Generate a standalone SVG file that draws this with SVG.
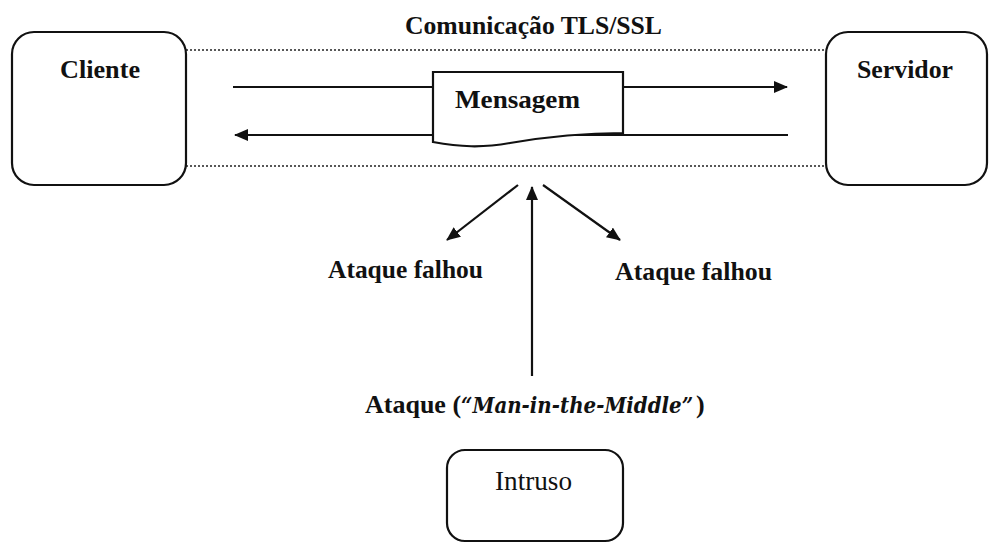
<svg xmlns="http://www.w3.org/2000/svg" width="990" height="543" viewBox="0 0 990 543">
  <defs>
    <marker id="arrow" viewBox="0 0 14 12" refX="13" refY="6" markerWidth="14" markerHeight="12" markerUnits="userSpaceOnUse" orient="auto">
      <path d="M0,0 L14,6 L0,12 Z" fill="#111"/>
    </marker>
    <style>
      .box { fill: #fff; stroke: #111; stroke-width: 2.2; }
      .lbl { font-family: "Liberation Serif", "Times New Roman", serif; font-weight: bold; font-size: 26px; fill: #111; }
      .reg { font-family: "Liberation Serif", "Times New Roman", serif; font-size: 27px; fill: #111; }
      .ital { font-family: "DejaVu Serif", "Liberation Serif", serif; font-style: italic; font-weight: bold; font-size: 23px; }
      .dot { stroke: #222; stroke-width: 1.6; stroke-dasharray: 2 2; fill: none; }
      .link { stroke: #111; stroke-width: 2.2; fill: none; marker-end: url(#arrow); }
    </style>
  </defs>

  <rect width="990" height="543" fill="#fff"/>

  <!-- TLS/SSL channel boundaries -->
  <g id="channel">
    <line class="dot" x1="186" y1="50" x2="827" y2="50"/>
    <line class="dot" x1="186" y1="166" x2="827" y2="166"/>
    <text class="lbl" x="405" y="34" textLength="257" lengthAdjust="spacingAndGlyphs">Comunicação TLS/SSL</text>
  </g>

  <!-- connectors -->
  <g id="connectors">
    <line class="link" x1="233" y1="87" x2="787" y2="87"/>
    <line class="link" x1="788" y1="135" x2="235" y2="135"/>
    <line class="link" x1="518" y1="185" x2="447" y2="240"/>
    <line class="link" x1="543" y1="185" x2="620" y2="240"/>
    <line class="link" x1="532" y1="376" x2="532" y2="187"/>
  </g>

  <g id="cliente">
    <rect class="box" x="12" y="32" width="174" height="153" rx="22"/>
    <text class="lbl" x="60" y="78" textLength="80" lengthAdjust="spacingAndGlyphs">Cliente</text>
  </g>

  <g id="servidor">
    <rect class="box" x="826" y="32" width="161" height="153" rx="22"/>
    <text class="lbl" x="857" y="78" textLength="96" lengthAdjust="spacingAndGlyphs">Servidor</text>
  </g>

  <g id="mensagem">
    <path class="box" d="M433,72 H623 V133 C585,133 545,137 510,143 C482,148 460,147 433,142 Z"/>
    <text class="lbl" x="455" y="108" textLength="125" lengthAdjust="spacingAndGlyphs">Mensagem</text>
  </g>

  <g id="falha-esquerda">
    <text class="lbl" x="328" y="278" textLength="155" lengthAdjust="spacingAndGlyphs">Ataque falhou</text>
  </g>

  <g id="falha-direita">
    <text class="lbl" x="615" y="280" textLength="157" lengthAdjust="spacingAndGlyphs">Ataque falhou</text>
  </g>

  <g id="ataque">
    <text class="lbl" x="365" y="413">Ataque (<tspan class="ital" textLength="232" lengthAdjust="spacingAndGlyphs">“Man-in-the-Middle”</tspan><tspan dx="3">)</tspan></text>
  </g>

  <g id="intruso">
    <rect class="box" x="447" y="450" width="176" height="91" rx="18"/>
    <text class="reg" x="495" y="490" textLength="77" lengthAdjust="spacingAndGlyphs">Intruso</text>
  </g>
</svg>
